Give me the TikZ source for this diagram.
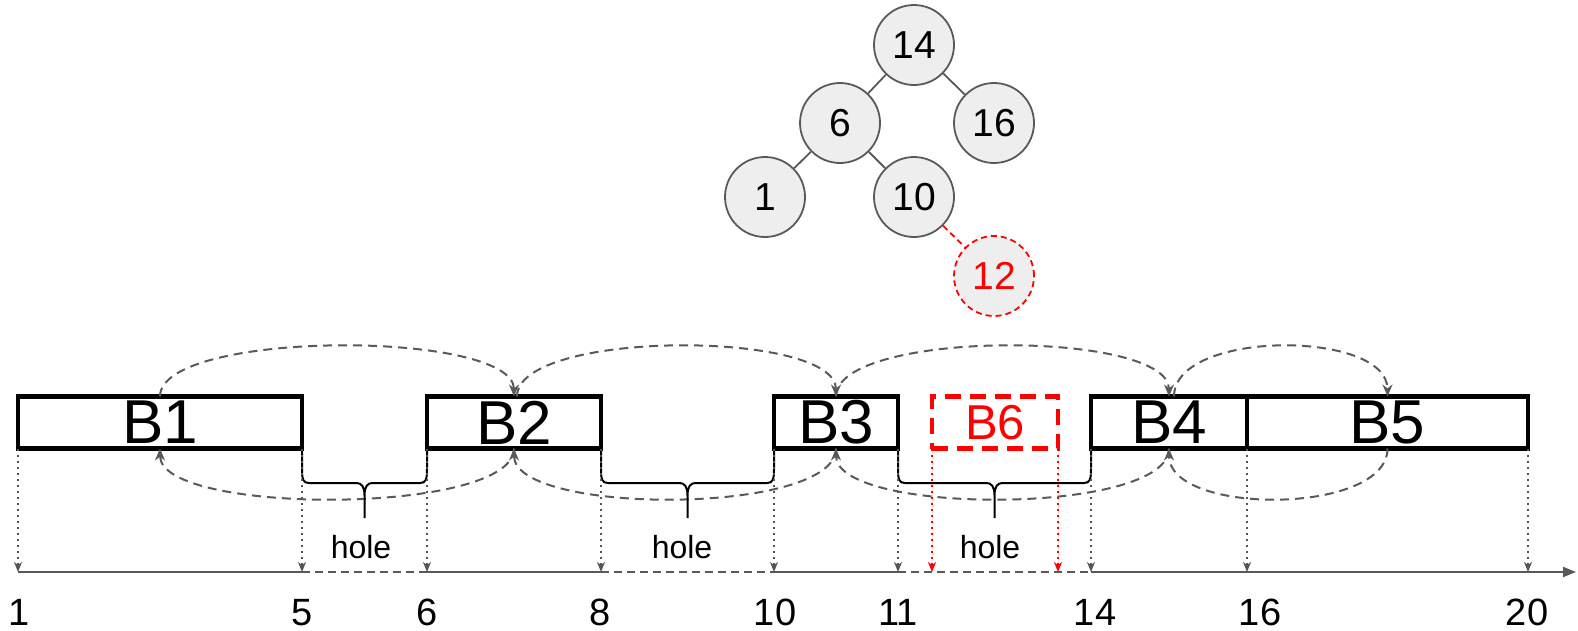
\documentclass[tikz,border=0pt]{standalone}
\usepackage{fontspec}
\setmainfont{Liberation Sans}
\usetikzlibrary{arrows.meta,calc}

\definecolor{edgegray}{HTML}{595959}
\definecolor{dropgray}{HTML}{555555}
\definecolor{nodefill}{HTML}{EEEEEE}

% curly brace under a gap between two blocks
\newcommand\holebrace[2]{%
  \draw[bracepath] let \p1=(#1), \p2=(#2), \p3=($(#1)!0.5!(#2)$) in
    (\x1,\y1) -- (\x1,\y1-20pt)
      .. controls (\x1,\y1-31pt) and (\x1+1pt,\y1-34.5pt) .. (\x1+7pt,\y1-34.5pt)
      -- (\x3-8pt,\y1-34.5pt)
      .. controls (\x3-3pt,\y1-34.5pt) and (\x3,\y1-38pt) .. (\x3,\y1-47pt)
      -- (\x3,\y1-69.5pt)
    (\x2,\y2) -- (\x2,\y2-20pt)
      .. controls (\x2,\y2-31pt) and (\x2-1pt,\y2-34.5pt) .. (\x2-7pt,\y2-34.5pt)
      -- (\x3+8pt,\y2-34.5pt)
      .. controls (\x3+3pt,\y2-34.5pt) and (\x3,\y2-38pt) .. (\x3,\y2-47pt);
}

\begin{document}
\begin{tikzpicture}[x=1pt,y=-1pt,
  treenode/.style={circle, draw=edgegray, line width=1.8pt, fill=nodefill,
    minimum size=80pt, inner sep=0pt, font=\fontsize{39}{40}\selectfont},
  newnode/.style={treenode, draw=red, text=red, dash pattern=on 6pt off 4pt},
  treeedge/.style={draw=edgegray, line width=1.8pt},
  newedge/.style={draw=red, line width=1.8pt, dash pattern=on 6pt off 4pt},
  blockbox/.style={draw=black, line width=4.5pt, minimum height=52pt,
    inner sep=0pt, outer sep=0pt, font=\fontsize{62}{62}\selectfont},
  newblock/.style={blockbox, draw=red, text=red, dash pattern=on 16pt off 9pt,
    font=\fontsize{49}{49}\selectfont},
  linkarc/.style={draw=edgegray, line width=2pt, dash pattern=on 9pt off 6pt,
    -{Stealth[length=12pt,width=10pt]}},
  dropline/.style={draw=dropgray, line width=2pt, dash pattern=on 2pt off 4pt,
    -{Stealth[length=10pt,width=8pt,inset=3pt]}},
  newdrop/.style={dropline, draw=red, fill=red},
  axisline/.style={draw=edgegray, line width=2pt},
  axisgap/.style={axisline, dash pattern=on 8pt off 5pt},
  bracepath/.style={draw=black, line width=2pt},
  holelabel/.style={inner sep=0pt, anchor=base, font=\fontsize{32}{34}\selectfont},
  ticklabel/.style={inner sep=0pt, anchor=base, font=\fontsize{38}{40}\selectfont}
]
\useasboundingbox (0,0) rectangle (1578,630);

% ---- search tree ----
\node[treenode] (n14) at (914,45)  {14};
\node[treenode] (n6)  at (840,123) {6};
\node[treenode] (n16) at (994,123) {16};
\node[treenode] (n1)  at (765,197) {1};
\node[treenode] (n10) at (914,197) {10};
\node[newnode]  (n12) at (994,276) {12};
\draw[treeedge] (n14) -- (n6);
\draw[treeedge] (n14) -- (n16);
\draw[treeedge] (n6) -- (n1);
\draw[treeedge] (n6) -- (n10);
\draw[newedge] (n10) -- (n12);

% ---- blocks ----
\node[blockbox, minimum width=284pt] (b1) at (160,422.5)    {B1};
\node[blockbox, minimum width=174pt] (b2) at (514,422.5)    {B2};
\node[blockbox, minimum width=124pt] (b3) at (836,422.5)    {B3};
\node[newblock, minimum width=126pt] (b6) at (995,422.5)    {B6};
\node[blockbox, minimum width=156pt] (b4) at (1169,422.5)   {B4};
\node[blockbox, minimum width=281pt] (b5) at (1387.5,422.5) {B5};

% ---- forward links ----
\draw[linkarc] (b1.north) .. controls +(0,-67) and +(0,-67) .. (b2.north);
\draw[linkarc] ([xshift=3pt]b2.north) .. controls +(0,-67) and +(0,-67) .. (b3.north);
\draw[linkarc] (b3.north) .. controls +(0,-67) and +(0,-67) .. (b4.north);
\draw[linkarc] ([xshift=5pt]b4.north) .. controls +(0,-67) and +(0,-67) .. (b5.north);

% ---- backward links ----
\draw[linkarc] (b2.south) .. controls +(0,67) and +(0,67) .. (b1.south);
\draw[linkarc] (b3.south) .. controls +(0,67) and +(0,67) .. (b2.south);
\draw[linkarc] (b4.south) .. controls +(0,67) and +(0,67) .. (b3.south);
\draw[linkarc] (b5.south) .. controls +(0,67) and +(0,67) .. (b4.south);

% ---- holes ----
\holebrace{b1.south east}{b2.south west}
\holebrace{b2.south east}{b3.south west}
\holebrace{b3.south east}{b4.south west}
\node[holelabel] (h1) at (361,558) {hole};
\node[holelabel] (h2) at (682,558) {hole};
\node[holelabel] (h3) at (990,558) {hole};

% ---- address axis ----
\coordinate (axis) at (0,572);
\coordinate (a1)  at (b1.south west |- axis);
\coordinate (a5)  at (b1.south east |- axis);
\coordinate (a6)  at (b2.south west |- axis);
\coordinate (a8)  at (b2.south east |- axis);
\coordinate (a10) at (b3.south west |- axis);
\coordinate (a11) at (b3.south east |- axis);
\coordinate (a14) at (b4.south west |- axis);
\coordinate (a16) at (b4.south east |- axis);
\coordinate (a20) at (b5.south east |- axis);
\coordinate (r1)  at (b6.south west |- axis);
\coordinate (r2)  at (b6.south east |- axis);
\coordinate (aend) at (1576,572);

\draw[axisline] (a1) -- (a5);
\draw[axisgap]  (a5) -- (a6);
\draw[axisline] (a6) -- (a8);
\draw[axisgap]  (a8) -- (a10);
\draw[axisline] (a10) -- (a11);
\draw[axisgap]  (a11) -- (a14);
\draw[axisline, -{Triangle[length=13pt,width=10pt]}] (a14) -- (aend);

\draw[dropline] (b1.south west) -- (a1);
\draw[dropline] (b1.south east) -- (a5);
\draw[dropline] (b2.south west) -- (a6);
\draw[dropline] (b2.south east) -- (a8);
\draw[dropline] (b3.south west) -- (a10);
\draw[dropline] (b3.south east) -- (a11);
\draw[dropline] (b4.south west) -- (a14);
\draw[dropline] (b4.south east) -- (a16);
\draw[dropline] (b5.south east) -- (a20);
\draw[newdrop] (b6.south west) -- (r1);
\draw[newdrop] (b6.south east) -- (r2);

\node[ticklabel] (l1)  at (19,625)   {1};
\node[ticklabel] (l5)  at (302,625)  {5};
\node[ticklabel] (l6)  at (427,625)  {6};
\node[ticklabel] (l8)  at (600,625)  {8};
\node[ticklabel] (l10) at (775,625)  {10};
\node[ticklabel] (l11) at (898,625)  {11};
\node[ticklabel] (l14) at (1095,625) {14};
\node[ticklabel] (l16) at (1260,625) {16};
\node[ticklabel] (l20) at (1527,625) {20};
\end{tikzpicture}
\end{document}
